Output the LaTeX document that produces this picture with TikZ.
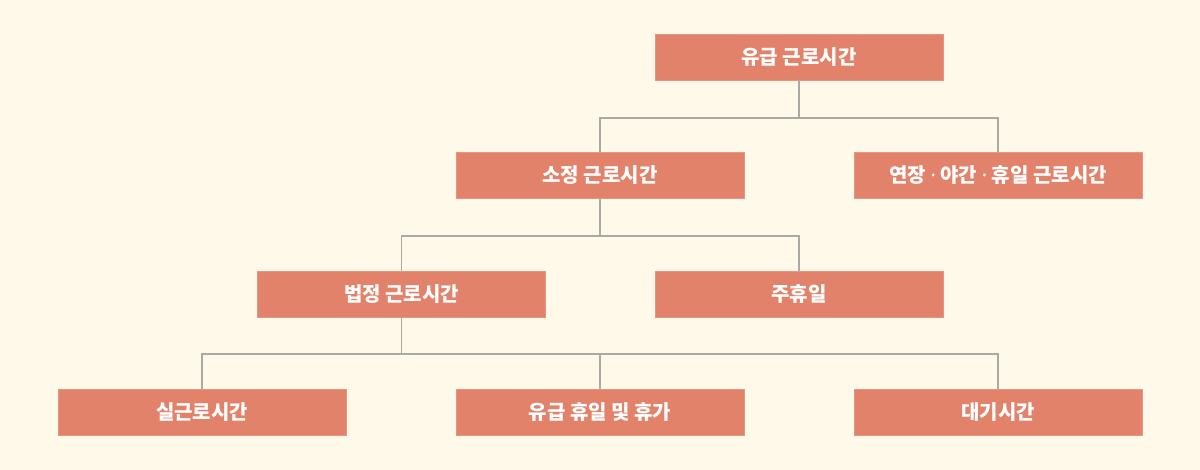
\documentclass[tikz,border=0pt]{standalone}
\usepackage{fontspec}
\newfontfamily\kr{Noto Sans CJK KR}
\newfontfamily\latn{Noto Sans}
\newcommand{\middot}{{\latn\bfseries ·}}
\definecolor{bgcream}{HTML}{FEF9E8}
\definecolor{boxsalmon}{HTML}{E3826A}
\definecolor{linegray}{HTML}{A9AAA2}
\tikzset{
  box/.style={fill=boxsalmon,draw=boxsalmon!85!white,line width=0.5pt,text=white,
    minimum width=216pt,minimum height=34.5pt,inner sep=0pt,
    font=\kr\bfseries\fontsize{15pt}{18pt}\selectfont},
  conn/.style={draw=linegray,line width=1.3pt}
}
\begin{document}
\begin{tikzpicture}[x=0.75pt,y=-0.75pt]
    \fill[bgcream] (0,0) rectangle (1200,470);
    \useasboundingbox (0,0) rectangle (1200,470);
    \foreach \n/\x/\y/\t in {top/799/57.5/유급 근로시간,
        sojeong/600/175.5/소정 근로시간, yeonjang/998/175.5/연장 \middot{} 야간 \middot{} 휴일 근로시간,
        beopjeong/401.5/294/법정 근로시간, juhyu/799/294/주휴일,
        sil/202/412.5/실근로시간, hyuga/600/412.5/유급 휴일 및 휴가, daegi/998/412.5/대기시간}
      \node[box] (\n) at (\x,\y) {\t};
    % tree connectors
    \foreach \p/\c in {top/sojeong,top/yeonjang,sojeong/beopjeong,sojeong/juhyu,
        beopjeong/sil,beopjeong/hyuga,beopjeong/daegi}
      \draw[conn] (\p.south) -- ++(0,37) -| (\c.north);
\end{tikzpicture}
\end{document}
